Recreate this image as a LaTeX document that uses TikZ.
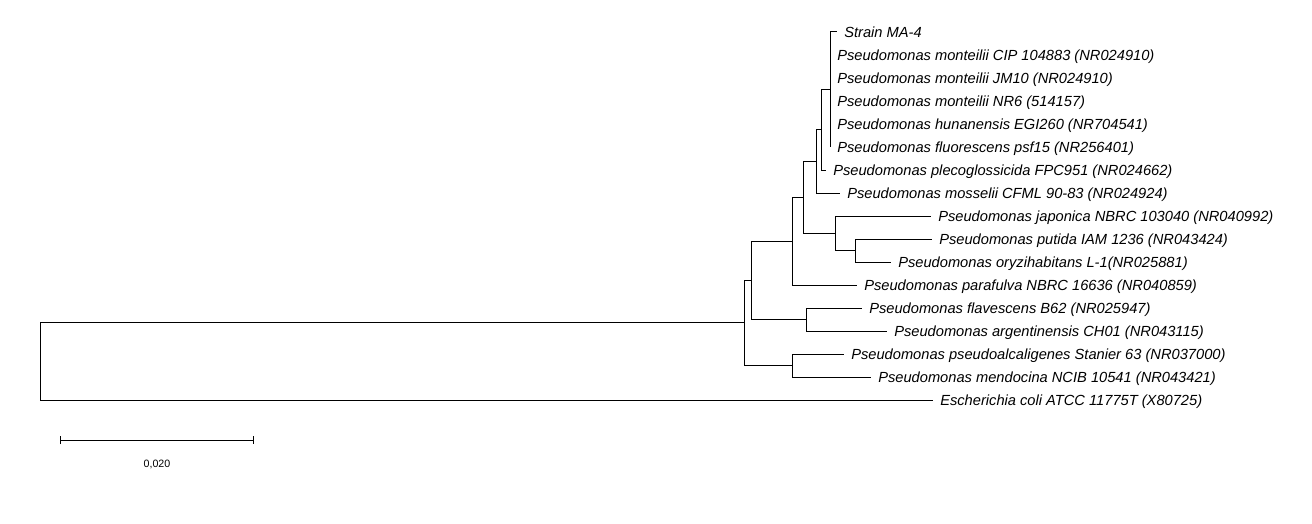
\documentclass[tikz,border=0pt]{standalone}
\usepackage{fontspec}
\setmainfont{Liberation Sans}
\usetikzlibrary{positioning,arrows.meta}

\begin{document}
\begin{tikzpicture}[x=0.75pt, y=-0.75pt,
    branch/.style={line width=0.75pt},
    leaf/.style={font=\fontsize{11}{13}\selectfont\itshape, inner sep=0pt,
                 text height=7.9pt, text depth=0pt},
    scalebar/.style={line width=0.75pt, {Bar[width=6pt]}-{Bar[width=6pt]}}
]
    \useasboundingbox (0,0) rectangle (1312,524);

    % tips
    \coordinate (t0) at (837,32);
    \coordinate (t1) at (830,55);
    \coordinate (t2) at (830,78);
    \coordinate (t3) at (830,101);
    \coordinate (t4) at (830,124);
    \coordinate (t5) at (830,147);
    \coordinate (t6) at (826,170);
    \coordinate (t7) at (840,193);
    \coordinate (t8) at (931,216);
    \coordinate (t9) at (932,239);
    \coordinate (t10) at (891,262);
    \coordinate (t11) at (857,285);
    \coordinate (t12) at (862,308);
    \coordinate (t13) at (887,331);
    \coordinate (t14) at (844,354);
    \coordinate (t15) at (871,377);
    \coordinate (t16) at (933,400);

    % inner nodes
    \coordinate (cA) at (830,89.5);
    \coordinate (cB) at (821,129.75);
    \coordinate (cC) at (816,161.4);
    \coordinate (cE) at (855,250.5);
    \coordinate (cD) at (835,233.25);
    \coordinate (cF) at (803,197.3);
    \coordinate (cG) at (792,241.2);
    \coordinate (cH) at (806,319.5);
    \coordinate (cI) at (751,280.3);
    \coordinate (cJ) at (792,365.5);
    \coordinate (cK) at (744,322.9);
    \coordinate (root) at (40,361.5);

    % labels
    \node[leaf, right=5.25pt of t0] (l0) {Strain MA-4};
    \node[leaf, right=5.25pt of t1] (l1) {Pseudomonas monteilii CIP 104883 (NR024910)};
    \node[leaf, right=5.25pt of t2] (l2) {Pseudomonas monteilii JM10 (NR024910)};
    \node[leaf, right=5.25pt of t3] (l3) {Pseudomonas monteilii NR6 (514157)};
    \node[leaf, right=5.25pt of t4] (l4) {Pseudomonas hunanensis EGI260 (NR704541)};
    \node[leaf, right=5.25pt of t5] (l5) {Pseudomonas fluorescens psf15 (NR256401)};
    \node[leaf, right=5.25pt of t6] (l6) {Pseudomonas plecoglossicida FPC951 (NR024662)};
    \node[leaf, right=5.25pt of t7] (l7) {Pseudomonas mosselii CFML 90-83 (NR024924)};
    \node[leaf, right=5.25pt of t8] (l8) {Pseudomonas japonica NBRC 103040 (NR040992)};
    \node[leaf, right=5.25pt of t9] (l9) {Pseudomonas putida IAM 1236 (NR043424)};
    \node[leaf, right=5.25pt of t10] (l10) {Pseudomonas oryzihabitans L-1(NR025881)};
    \node[leaf, right=5.25pt of t11] (l11) {Pseudomonas parafulva NBRC 16636 (NR040859)};
    \node[leaf, right=5.25pt of t12] (l12) {Pseudomonas flavescens B62 (NR025947)};
    \node[leaf, right=5.25pt of t13] (l13) {Pseudomonas argentinensis CH01 (NR043115)};
    \node[leaf, right=5.25pt of t14] (l14) {Pseudomonas pseudoalcaligenes Stanier 63 (NR037000)};
    \node[leaf, right=5.25pt of t15] (l15) {Pseudomonas mendocina NCIB 10541 (NR043421)};
    \node[leaf, right=5.25pt of t16] (l16) {Escherichia coli ATCC 11775T (X80725)};

    % branches
    \draw[branch] (cA) |- (t0);
    \draw[branch] (cA) |- (t1);
    \draw[branch] (cA) |- (t2);
    \draw[branch] (cA) |- (t3);
    \draw[branch] (cA) |- (t4);
    \draw[branch] (cA) |- (t5);
    \draw[branch] (cB) |- (cA);
    \draw[branch] (cB) |- (t6);
    \draw[branch] (cC) |- (cB);
    \draw[branch] (cC) |- (t7);
    \draw[branch] (cE) |- (t9);
    \draw[branch] (cE) |- (t10);
    \draw[branch] (cD) |- (t8);
    \draw[branch] (cD) |- (cE);
    \draw[branch] (cF) |- (cC);
    \draw[branch] (cF) |- (cD);
    \draw[branch] (cG) |- (cF);
    \draw[branch] (cG) |- (t11);
    \draw[branch] (cH) |- (t12);
    \draw[branch] (cH) |- (t13);
    \draw[branch] (cI) |- (cG);
    \draw[branch] (cI) |- (cH);
    \draw[branch] (cJ) |- (t14);
    \draw[branch] (cJ) |- (t15);
    \draw[branch] (cK) |- (cI);
    \draw[branch] (cK) |- (cJ);
    \draw[branch] (root) |- (cK);
    \draw[branch] (root) |- (t16);

    % scale bar
    \coordinate (sbl) at (60,440);
    \coordinate (sbr) at (254,440);
    \draw[scalebar] (sbl) -- (sbr);
    \node[font=\fontsize{8}{10}\selectfont, inner sep=0pt] (sblabel) at (157,464) {0,020};
\end{tikzpicture}
\end{document}
